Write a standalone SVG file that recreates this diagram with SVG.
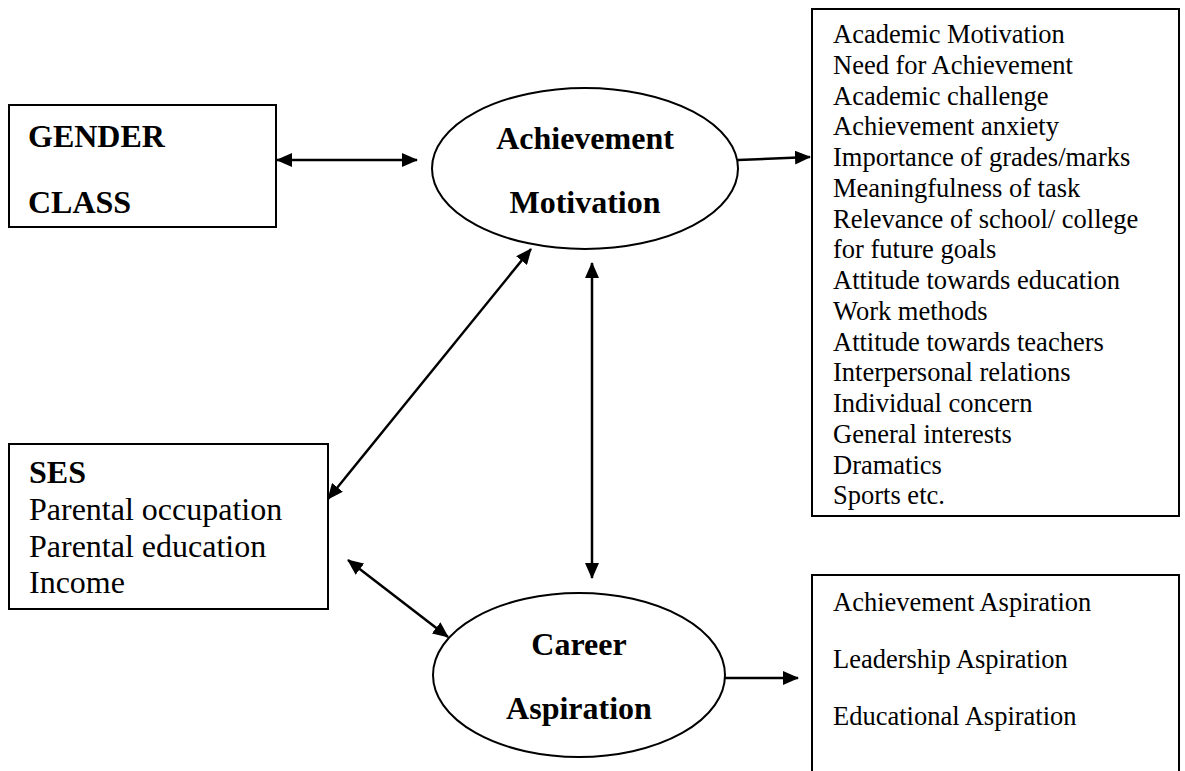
<svg xmlns="http://www.w3.org/2000/svg" width="1185" height="771" viewBox="0 0 1185 771">
<style>
.box{fill:#fff;stroke:#000;stroke-width:2}
.ell{fill:#fff;stroke:#000;stroke-width:2}
.b{font-family:"Liberation Serif","Times New Roman",serif;font-weight:bold;font-size:32px;fill:#000}
.r{font-family:"Liberation Serif","Times New Roman",serif;font-size:32px;fill:#000}
.s{font-family:"Liberation Serif","Times New Roman",serif;font-size:26.5px;fill:#000}
.c{text-anchor:middle}
.ln{stroke:#000;stroke-width:2.5;fill:none}
</style>
<defs>
<marker id="ah" markerUnits="userSpaceOnUse" markerWidth="16" markerHeight="14" refX="15" refY="7" orient="auto-start-reverse" viewBox="0 0 16 14">
<path d="M0,0 L16,7 L0,14 z" fill="#000"/>
</marker>
</defs>
<rect width="1185" height="771" fill="#fff"/>
<g id="gender">
<rect class="box" x="9" y="105" width="267" height="122"/>
<text class="b" x="28" y="147">GENDER</text>
<text class="b" x="28" y="213">CLASS</text>
</g>
<g id="achievement">
<ellipse class="ell" cx="585" cy="168.5" rx="153" ry="80.5"/>
<text class="b c" x="585" y="149">Achievement</text>
<text class="b c" x="585" y="213">Motivation</text>
</g>
<g id="motivation-list">
<rect class="box" x="812" y="9" width="367" height="507"/>
<text class="s" x="833" y="43">
<tspan x="833" dy="0">Academic Motivation</tspan>
<tspan x="833" dy="30.75">Need for Achievement</tspan>
<tspan x="833" dy="30.75">Academic challenge</tspan>
<tspan x="833" dy="30.75">Achievement anxiety</tspan>
<tspan x="833" dy="30.75">Importance of grades/marks</tspan>
<tspan x="833" dy="30.75">Meaningfulness of task</tspan>
<tspan x="833" dy="30.75">Relevance of school/ college</tspan>
<tspan x="833" dy="30.75">for future goals</tspan>
<tspan x="833" dy="30.75">Attitude towards education</tspan>
<tspan x="833" dy="30.75">Work methods</tspan>
<tspan x="833" dy="30.75">Attitude towards teachers</tspan>
<tspan x="833" dy="30.75">Interpersonal relations</tspan>
<tspan x="833" dy="30.75">Individual concern</tspan>
<tspan x="833" dy="30.75">General interests</tspan>
<tspan x="833" dy="30.75">Dramatics</tspan>
<tspan x="833" dy="30.75">Sports etc.</tspan>
</text>
</g>
<g id="ses">
<rect class="box" x="9" y="444" width="319" height="165"/>
<text class="b" x="29" y="483">SES</text>
<text class="r" x="29" y="520">Parental occupation</text>
<text class="r" x="29" y="557">Parental education</text>
<text class="r" x="29" y="593">Income</text>
</g>
<g id="career">
<ellipse class="ell" cx="579" cy="675" rx="146" ry="82"/>
<text class="b c" x="579" y="655">Career</text>
<text class="b c" x="579" y="719">Aspiration</text>
</g>
<g id="aspiration-list">
<rect class="box" x="812" y="575" width="367" height="205"/>
<text class="s" x="833" y="611">Achievement Aspiration</text>
<text class="s" x="833" y="668">Leadership Aspiration</text>
<text class="s" x="833" y="725">Educational Aspiration</text>
</g>
<g id="connectors">
<line class="ln" x1="277" y1="160" x2="417" y2="160" marker-start="url(#ah)" marker-end="url(#ah)"/>
<line class="ln" x1="738" y1="160" x2="810" y2="157" marker-end="url(#ah)"/>
<line class="ln" x1="328" y1="499" x2="531" y2="249" marker-start="url(#ah)" marker-end="url(#ah)"/>
<line class="ln" x1="592" y1="263" x2="592" y2="578" marker-start="url(#ah)" marker-end="url(#ah)"/>
<line class="ln" x1="348" y1="560" x2="448" y2="637" marker-start="url(#ah)" marker-end="url(#ah)"/>
<line class="ln" x1="725" y1="678" x2="798" y2="678" marker-end="url(#ah)"/>
</g>
</svg>
